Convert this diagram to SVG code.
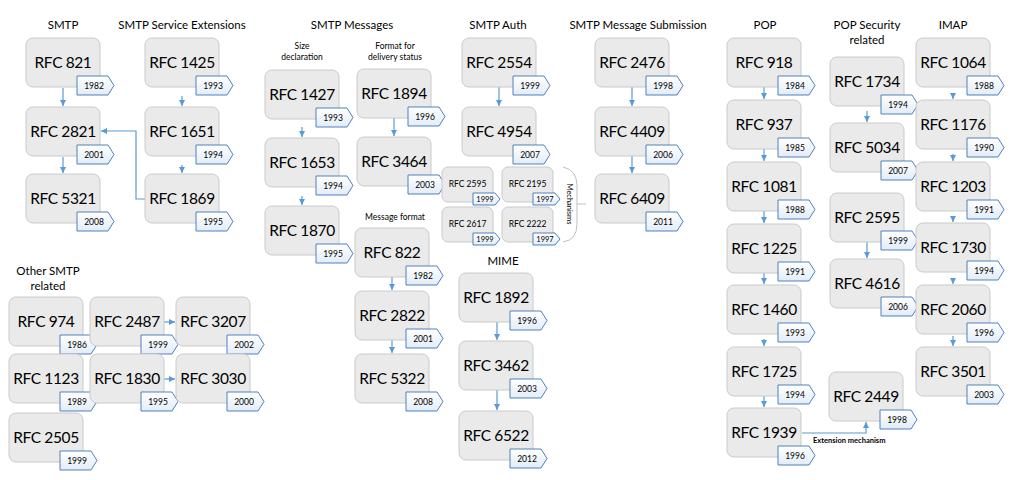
<svg xmlns="http://www.w3.org/2000/svg" width="1016" height="480" viewBox="0 0 1016 480">
<style>
.bx{fill:#EAEAEA;stroke:#CACACA;stroke-width:1}
.tg{fill:url(#tagg);stroke:#4F81BD;stroke-width:1}
.lb{font-family:Lato,"Liberation Sans",sans-serif;font-size:15.5px;letter-spacing:-0.4px;fill:#000;text-anchor:middle}
.lbs{font-family:Lato,"Liberation Sans",sans-serif;font-size:8.5px;fill:#000;text-anchor:middle}
.yr{font-family:Lato,"Liberation Sans",sans-serif;font-size:8.5px;fill:#000;text-anchor:middle}
.yrs{font-family:Lato,"Liberation Sans",sans-serif;font-size:7.5px;fill:#000;text-anchor:middle}
.ti{font-family:Lato,"Liberation Sans",sans-serif;font-size:11.5px;fill:#000;text-anchor:middle}
.st{font-family:Lato,"Liberation Sans",sans-serif;font-size:8.5px;fill:#000;text-anchor:middle}
.cn{fill:none;stroke:#5B9BD5;stroke-width:1.2}
.gr{fill:none;stroke:#BFBFBF;stroke-width:1}
</style>
<defs>
<linearGradient id="tagg" x1="0" y1="0" x2="0" y2="1"><stop offset="0" stop-color="#FFFFFF"/><stop offset="1" stop-color="#E3ECF7"/></linearGradient>
<marker id="ah" markerWidth="7" markerHeight="7" refX="6" refY="3" orient="auto" markerUnits="userSpaceOnUse"><path d="M0,0 L6,3 L0,6 z" fill="#5B9BD5"/></marker>
<g id="big"><rect class="bx" x="0" y="0" width="74" height="49" rx="7"/><polygon class="tg" points="51,38 82,38 88,47.5 82,57 51,57"/></g>
<g id="small"><rect class="bx" x="0" y="0" width="51" height="35" rx="6"/><polygon class="tg" points="31,26 53,26 58,32 53,38 31,38"/></g>
</defs>
<rect width="1016" height="480" fill="#FFFFFF"/>

<g id="titles">
<text class="ti" x="63" y="29">SMTP</text>
<text class="ti" x="182" y="29">SMTP Service Extensions</text>
<text class="ti" x="352" y="29">SMTP Messages</text>
<text class="st" x="302" y="49">Size</text>
<text class="st" x="302" y="60">declaration</text>
<text class="st" x="395" y="49">Format for</text>
<text class="st" x="395" y="60">delivery status</text>
<text class="st" x="395" y="220">Message format</text>
<text class="ti" x="498" y="29">SMTP Auth</text>
<text class="ti" x="503" y="265">MIME</text>
<text class="ti" x="638" y="29">SMTP Message Submission</text>
<text class="ti" x="765" y="29">POP</text>
<text class="ti" x="867" y="29">POP Security</text>
<text class="ti" x="867" y="44">related</text>
<text class="ti" x="953" y="29">IMAP</text>
<text class="ti" x="48" y="275">Other SMTP</text>
<text class="ti" x="48" y="290">related</text>
</g>

<g id="connectors">
<line class="cn" x1="63" y1="88" x2="63" y2="106" marker-end="url(#ah)"/>
<line class="cn" x1="63" y1="157" x2="63" y2="173" marker-end="url(#ah)"/>
<line class="cn" x1="182" y1="96" x2="182" y2="106" marker-end="url(#ah)"/>
<line class="cn" x1="182" y1="165" x2="182" y2="173" marker-end="url(#ah)"/>
<polyline class="cn" points="145,199 136,199 136,131 101,131" marker-end="url(#ah)"/>
<line class="cn" x1="302" y1="127" x2="302" y2="137" marker-end="url(#ah)"/>
<line class="cn" x1="302" y1="196" x2="302" y2="205" marker-end="url(#ah)"/>
<line class="cn" x1="394" y1="118" x2="394" y2="136" marker-end="url(#ah)"/>
<line class="cn" x1="392" y1="277" x2="392" y2="290" marker-end="url(#ah)"/>
<line class="cn" x1="392" y1="340" x2="392" y2="353" marker-end="url(#ah)"/>
<line class="cn" x1="499" y1="87" x2="499" y2="106" marker-end="url(#ah)"/>
<line class="cn" x1="497" y1="322" x2="497" y2="340" marker-end="url(#ah)"/>
<line class="cn" x1="497" y1="390" x2="497" y2="410" marker-end="url(#ah)"/>
<line class="cn" x1="632" y1="87" x2="632" y2="106" marker-end="url(#ah)"/>
<line class="cn" x1="632" y1="156" x2="632" y2="173" marker-end="url(#ah)"/>
<line class="cn" x1="764" y1="87" x2="764" y2="99" marker-end="url(#ah)"/>
<line class="cn" x1="764" y1="149" x2="764" y2="161" marker-end="url(#ah)"/>
<line class="cn" x1="764" y1="211" x2="764" y2="223" marker-end="url(#ah)"/>
<line class="cn" x1="764" y1="273" x2="764" y2="284" marker-end="url(#ah)"/>
<line class="cn" x1="764" y1="339" x2="764" y2="346" marker-end="url(#ah)"/>
<line class="cn" x1="764" y1="396" x2="764" y2="407" marker-end="url(#ah)"/>
<polyline class="cn" points="802,433 866,433 866,422" marker-end="url(#ah)"/>
<line class="cn" x1="867" y1="111" x2="867" y2="122" marker-end="url(#ah)"/>
<line class="cn" x1="867" y1="242" x2="867" y2="258" marker-end="url(#ah)"/>
<line class="cn" x1="953" y1="94" x2="953" y2="99" marker-end="url(#ah)"/>
<line class="cn" x1="953" y1="154" x2="953" y2="161" marker-end="url(#ah)"/>
<line class="cn" x1="953" y1="217" x2="953" y2="222" marker-end="url(#ah)"/>
<line class="cn" x1="953" y1="279" x2="953" y2="284" marker-end="url(#ah)"/>
<line class="cn" x1="953" y1="336" x2="953" y2="346" marker-end="url(#ah)"/>
<line class="cn" x1="164" y1="322" x2="175" y2="322" marker-end="url(#ah)"/>
<line class="cn" x1="164" y1="379" x2="175" y2="379" marker-end="url(#ah)"/>
<path class="gr" d="M563,167 Q577,170 577,186 L577,224 Q577,240 563,242"/>
<line class="gr" x1="577" y1="204" x2="586" y2="204"/>
<text class="st" x="813" y="443" style="text-anchor:start;font-size:7.5px;font-weight:bold">Extension mechanism</text>
<text class="st" transform="translate(567,204) rotate(90)" style="font-size:7.5px">Mechanisms</text>
</g>

<g id="rfc821" transform="translate(26,38)"><use href="#big"/><text class="lb" x="37" y="30">RFC 821</text><text class="yr" x="68" y="51">1982</text></g>
<g id="rfc2821" transform="translate(26,107)"><use href="#big"/><text class="lb" x="37" y="30">RFC 2821</text><text class="yr" x="68" y="51">2001</text></g>
<g id="rfc5321" transform="translate(26,174)"><use href="#big"/><text class="lb" x="37" y="30">RFC 5321</text><text class="yr" x="68" y="51">2008</text></g>

<g id="rfc1425" transform="translate(145,38)"><use href="#big"/><text class="lb" x="37" y="30">RFC 1425</text><text class="yr" x="68" y="51">1993</text></g>
<g id="rfc1651" transform="translate(145,107)"><use href="#big"/><text class="lb" x="37" y="30">RFC 1651</text><text class="yr" x="68" y="51">1994</text></g>
<g id="rfc1869" transform="translate(145,174)"><use href="#big"/><text class="lb" x="37" y="30">RFC 1869</text><text class="yr" x="68" y="51">1995</text></g>

<g id="rfc1427" transform="translate(265,70)"><use href="#big"/><text class="lb" x="37" y="30">RFC 1427</text><text class="yr" x="68" y="51">1993</text></g>
<g id="rfc1653" transform="translate(265,138)"><use href="#big"/><text class="lb" x="37" y="30">RFC 1653</text><text class="yr" x="68" y="51">1994</text></g>
<g id="rfc1870" transform="translate(265,206)"><use href="#big"/><text class="lb" x="37" y="30">RFC 1870</text><text class="yr" x="68" y="51">1995</text></g>

<g id="rfc1894" transform="translate(357,69)"><use href="#big"/><text class="lb" x="37" y="30">RFC 1894</text><text class="yr" x="68" y="51">1996</text></g>
<g id="rfc3464" transform="translate(357,137)"><use href="#big"/><text class="lb" x="37" y="30">RFC 3464</text><text class="yr" x="68" y="51">2003</text></g>

<g id="rfc822" transform="translate(355,228)"><use href="#big"/><text class="lb" x="37" y="30">RFC 822</text><text class="yr" x="68" y="51">1982</text></g>
<g id="rfc2822" transform="translate(355,291)"><use href="#big"/><text class="lb" x="37" y="30">RFC 2822</text><text class="yr" x="68" y="51">2001</text></g>
<g id="rfc5322" transform="translate(355,354)"><use href="#big"/><text class="lb" x="37" y="30">RFC 5322</text><text class="yr" x="68" y="51">2008</text></g>

<g id="rfc2554" transform="translate(462,38)"><use href="#big"/><text class="lb" x="37" y="30">RFC 2554</text><text class="yr" x="68" y="51">1999</text></g>
<g id="rfc4954" transform="translate(462,107)"><use href="#big"/><text class="lb" x="37" y="30">RFC 4954</text><text class="yr" x="68" y="51">2007</text></g>

<g id="rfc2595-mech" transform="translate(442,167)"><use href="#small"/><text class="lbs" x="25.5" y="20">RFC 2595</text><text class="yrs" x="43" y="35">1999</text></g>
<g id="rfc2195" transform="translate(502,167)"><use href="#small"/><text class="lbs" x="25.5" y="20">RFC 2195</text><text class="yrs" x="43" y="35">1997</text></g>
<g id="rfc2617" transform="translate(442,207)"><use href="#small"/><text class="lbs" x="25.5" y="20">RFC 2617</text><text class="yrs" x="43" y="35">1999</text></g>
<g id="rfc2222" transform="translate(502,207)"><use href="#small"/><text class="lbs" x="25.5" y="20">RFC 2222</text><text class="yrs" x="43" y="35">1997</text></g>

<g id="rfc1892" transform="translate(459,273)"><use href="#big"/><text class="lb" x="37" y="30">RFC 1892</text><text class="yr" x="68" y="51">1996</text></g>
<g id="rfc3462" transform="translate(459,341)"><use href="#big"/><text class="lb" x="37" y="30">RFC 3462</text><text class="yr" x="68" y="51">2003</text></g>
<g id="rfc6522" transform="translate(459,411)"><use href="#big"/><text class="lb" x="37" y="30">RFC 6522</text><text class="yr" x="68" y="51">2012</text></g>

<g id="rfc2476" transform="translate(595,38)"><use href="#big"/><text class="lb" x="37" y="30">RFC 2476</text><text class="yr" x="68" y="51">1998</text></g>
<g id="rfc4409" transform="translate(595,107)"><use href="#big"/><text class="lb" x="37" y="30">RFC 4409</text><text class="yr" x="68" y="51">2006</text></g>
<g id="rfc6409" transform="translate(595,174)"><use href="#big"/><text class="lb" x="37" y="30">RFC 6409</text><text class="yr" x="68" y="51">2011</text></g>

<g id="rfc918" transform="translate(727,38)"><use href="#big"/><text class="lb" x="37" y="30">RFC 918</text><text class="yr" x="68" y="51">1984</text></g>
<g id="rfc937" transform="translate(727,100)"><use href="#big"/><text class="lb" x="37" y="30">RFC 937</text><text class="yr" x="68" y="51">1985</text></g>
<g id="rfc1081" transform="translate(727,162)"><use href="#big"/><text class="lb" x="37" y="30">RFC 1081</text><text class="yr" x="68" y="51">1988</text></g>
<g id="rfc1225" transform="translate(727,224)"><use href="#big"/><text class="lb" x="37" y="30">RFC 1225</text><text class="yr" x="68" y="51">1991</text></g>
<g id="rfc1460" transform="translate(727,285)"><use href="#big"/><text class="lb" x="37" y="30">RFC 1460</text><text class="yr" x="68" y="51">1993</text></g>
<g id="rfc1725" transform="translate(727,347)"><use href="#big"/><text class="lb" x="37" y="30">RFC 1725</text><text class="yr" x="68" y="51">1994</text></g>
<g id="rfc1939" transform="translate(727,408)"><use href="#big"/><text class="lb" x="37" y="30">RFC 1939</text><text class="yr" x="68" y="51">1996</text></g>

<g id="rfc1734" transform="translate(830,57)"><use href="#big"/><text class="lb" x="37" y="30">RFC 1734</text><text class="yr" x="68" y="51">1994</text></g>
<g id="rfc5034" transform="translate(830,123)"><use href="#big"/><text class="lb" x="37" y="30">RFC 5034</text><text class="yr" x="68" y="51">2007</text></g>
<g id="rfc2595-pop" transform="translate(830,193)"><use href="#big"/><text class="lb" x="37" y="30">RFC 2595</text><text class="yr" x="68" y="51">1999</text></g>
<g id="rfc4616" transform="translate(830,259)"><use href="#big"/><text class="lb" x="37" y="30">RFC 4616</text><text class="yr" x="68" y="51">2006</text></g>
<g id="rfc2449" transform="translate(829,372)"><use href="#big"/><text class="lb" x="37" y="30">RFC 2449</text><text class="yr" x="68" y="51">1998</text></g>

<g id="rfc1064" transform="translate(916,38)"><use href="#big"/><text class="lb" x="37" y="30">RFC 1064</text><text class="yr" x="68" y="51">1988</text></g>
<g id="rfc1176" transform="translate(916,100)"><use href="#big"/><text class="lb" x="37" y="30">RFC 1176</text><text class="yr" x="68" y="51">1990</text></g>
<g id="rfc1203" transform="translate(916,162)"><use href="#big"/><text class="lb" x="37" y="30">RFC 1203</text><text class="yr" x="68" y="51">1991</text></g>
<g id="rfc1730" transform="translate(916,223)"><use href="#big"/><text class="lb" x="37" y="30">RFC 1730</text><text class="yr" x="68" y="51">1994</text></g>
<g id="rfc2060" transform="translate(916,285)"><use href="#big"/><text class="lb" x="37" y="30">RFC 2060</text><text class="yr" x="68" y="51">1996</text></g>
<g id="rfc3501" transform="translate(916,347)"><use href="#big"/><text class="lb" x="37" y="30">RFC 3501</text><text class="yr" x="68" y="51">2003</text></g>

<g id="rfc974" transform="translate(9,297)"><use href="#big"/><text class="lb" x="37" y="30">RFC 974</text><text class="yr" x="68" y="51">1986</text></g>
<g id="rfc2487" transform="translate(90,297)"><use href="#big"/><text class="lb" x="37" y="30">RFC 2487</text><text class="yr" x="68" y="51">1999</text></g>
<g id="rfc3207" transform="translate(176,297)"><use href="#big"/><text class="lb" x="37" y="30">RFC 3207</text><text class="yr" x="68" y="51">2002</text></g>
<g id="rfc1123" transform="translate(9,354)"><use href="#big"/><text class="lb" x="37" y="30">RFC 1123</text><text class="yr" x="68" y="51">1989</text></g>
<g id="rfc1830" transform="translate(90,354)"><use href="#big"/><text class="lb" x="37" y="30">RFC 1830</text><text class="yr" x="68" y="51">1995</text></g>
<g id="rfc3030" transform="translate(176,354)"><use href="#big"/><text class="lb" x="37" y="30">RFC 3030</text><text class="yr" x="68" y="51">2000</text></g>
<g id="rfc2505" transform="translate(9,413)"><use href="#big"/><text class="lb" x="37" y="30">RFC 2505</text><text class="yr" x="68" y="51">1999</text></g>
</svg>
